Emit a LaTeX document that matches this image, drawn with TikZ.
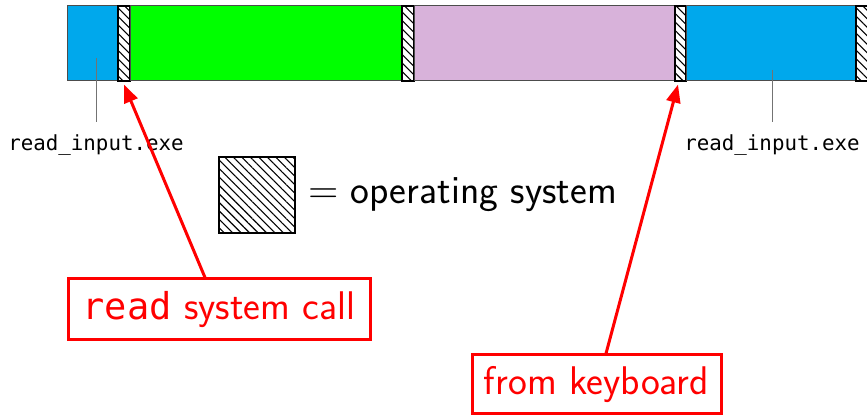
\documentclass[tikz,border=0pt]{standalone}
\usepackage{fontspec}
\setmonofont{DejaVu Sans Mono}
\usetikzlibrary{patterns.meta,arrows.meta,calc}
\definecolor{segblue}{RGB}{0,168,236}
\definecolor{seggreen}{RGB}{0,255,0}
\definecolor{segpurple}{RGB}{216,178,218}
\definecolor{callred}{RGB}{255,0,0}
\begin{document}
\begin{tikzpicture}[x=0.5pt,y=-0.5pt,
  seg/.style={draw=black!70, line width=0.5pt, inner sep=0pt, minimum height=37.5pt},
  oshatch/.style={draw=black, line width=0.6pt, inner sep=0pt, pattern={Lines[angle=-45,distance=3pt,line width=0.55pt]}, pattern color=black},
  lbl/.style={font=\fontsize{10.4}{12}\selectfont\ttfamily, inner sep=0pt},
  leader/.style={draw=black!55, line width=0.4pt},
  callbox/.style={draw=callred, line width=1.5pt, text=callred, inner sep=0pt, font=\fontsize{20}{24}\selectfont\sffamily},
  callarrow/.style={draw=callred, line width=1.5pt, -{Triangle[length=9pt,width=7pt]}}
]
\useasboundingbox (0,0) rectangle (867,416);
\clip (0,0) rectangle (867,416);
% bar segments
\node[seg, fill=segblue, minimum width=25.5pt] (b1) at (92.5,43.5) {};
\node[seg, oshatch, minimum height=37.5pt, minimum width=6pt] (h1) at (124,43.5) {};
\node[seg, fill=seggreen, minimum width=136pt] (g) at (266,43.5) {};
\node[seg, oshatch, minimum height=37.5pt, minimum width=6pt] (h2) at (408,43.5) {};
\node[seg, fill=segpurple, minimum width=130.5pt] (p) at (544.5,43.5) {};
\node[seg, oshatch, minimum height=37.5pt, minimum width=5.5pt] (h3) at (680.5,43.5) {};
\node[seg, fill=segblue, minimum width=85pt] (b2) at (771,43.5) {};
\node[seg, oshatch, minimum height=37.5pt, minimum width=12pt] (h4) at (868,43.5) {};
% labels
\node[lbl] (l1) at (96,145) {read\_input.exe};
\node[lbl] (l2) at (772,145) {read\_input.exe};
\coordinate (t1) at (96,58);
\coordinate (t2) at (772,70);
\draw[leader] (t1) -- ($(l1.north)+(0,-12)$);
\draw[leader] (t2) -- ($(l2.north)+(0,-12)$);
% legend
\node[oshatch, minimum width=38pt, minimum height=38pt] (leg) at (257,195) {};
\node[anchor=west, inner sep=0pt, font=\fontsize{20}{24}\selectfont\sffamily] (legt) at (308,195) {$=$ operating system};
% callouts
\node[callbox, minimum width=151pt, minimum height=30.5pt] (c1) at (219,309.5) {{\fontsize{18.5}{22}\selectfont\ttfamily read} system call};
\node[callbox, minimum width=124.5pt, minimum height=29.5pt] (c2) at (596.5,384.5) {from keyboard};
\draw[callarrow] ($(c1.north)+(-14,0)$) -- ($(h1.south)+(0,3)$);
\draw[callarrow] ($(c2.north)+(9.5,0)$) -- ($(h3.south)+(-2.5,3)$);
\end{tikzpicture}
\end{document}
